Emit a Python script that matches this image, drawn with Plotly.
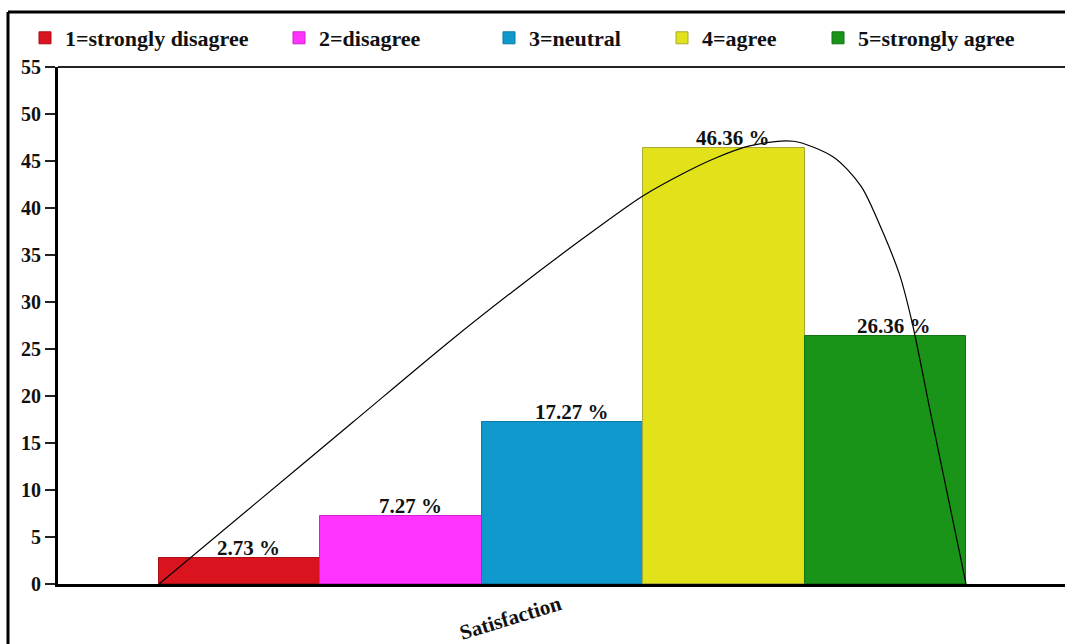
import plotly.graph_objects as go

categories = ["1=strongly disagree", "2=disagree", "3=neutral", "4=agree", "5=strongly agree"]
values = [2.73, 7.27, 17.27, 46.36, 26.36]
positions = [1, 2, 3, 4, 5]
colors = ["#d9141e", "#ff33ff", "#0f99cc", "#e2e21a", "#1a9418"]
edge_colors = ["#a80e16", "#d020d0", "#0b7aa6", "#a8a838", "#137313"]

# curve
curve_x = [0.5, 1.1, 1.7, 2.3, 2.72, 3.13, 3.49, 3.75, 3.96, 4.16, 4.43, 4.68, 4.85, 4.97, 5.09, 5.17, 5.28, 5.39, 5.5]
curve_y = [0.0, 8.6, 17.2, 25.8, 31.5, 36.8, 41.2, 43.7, 45.4, 46.6, 47.1, 45.4, 42.3, 38.0, 32.8, 27.5, 18.2, 9.1, 0.0]

yticks = [0, 5, 10, 15, 20, 25, 30, 35, 40, 45, 50, 55]
x_label = "Satisfaction"

W, H = 1065, 644
ML, MR, MT, MB = 58, 0, 67, 60
PW, PH = W - ML - MR, H - MT - MB

def px_x(p):
    return (p - ML) / PW

def px_y(p):
    return (H - MB - p) / PH

FONT = "Liberation Serif"
fig = go.Figure()

legend_centers = [46, 300, 510, 683, 839]
for i, (cat, v, pos, c, ec) in enumerate(zip(categories, values, positions, colors, edge_colors)):
    lname = "legend" if i == 0 else f"legend{i+1}"
    fig.add_trace(go.Bar(
        x=[pos], y=[v], width=1, name=cat,
        marker=dict(color=c, line=dict(color=ec, width=1)),
        legend=lname, showlegend=True,
    ))

fig.add_trace(go.Scatter(
    x=curve_x, y=curve_y, mode="lines",
    line=dict(color="black", width=1.2, shape="spline", smoothing=0.8),
    showlegend=False, hoverinfo="skip",
))

annotations = []
for pos, v in zip(positions, values):
    annotations.append(dict(
        x=pos, y=v, xref="x", yref="y", text=f"{v:.2f} %", showarrow=False,
        yanchor="bottom", xshift=9, yshift=-4,
        font=dict(family=FONT, size=21, color="#111", weight="bold"),
    ))
annotations.append(dict(
    x=2.675, y=px_y(618), xref="x", yref="paper", yanchor="middle", xanchor="center",
    text=x_label, showarrow=False,
    textangle=-17, font=dict(family=FONT, size=21, color="#111", weight="bold"),
))

layout_legends = {}
for i, cx in enumerate(legend_centers):
    lname = "legend" if i == 0 else f"legend{i+1}"
    layout_legends[lname] = dict(
        x=px_x(cx - 21), y=px_y(38), xanchor="left", yanchor="middle",
        orientation="h", bgcolor="rgba(0,0,0,0)", borderwidth=0,
        itemwidth=30,
        font=dict(family=FONT, size=22, color="#111", weight="bold"),
    )

shapes = [
    dict(type="line", xref="paper", yref="paper", x0=0, x1=1, y0=1, y1=1,
         line=dict(color="#222", width=2)),
    dict(type="line", xref="paper", yref="paper", x0=px_x(8), x1=px_x(8), y0=px_y(12), y1=px_y(H + 5),
         line=dict(color="black", width=3)),
    dict(type="line", xref="paper", yref="paper", x0=px_x(8), x1=px_x(W + 5), y0=px_y(12), y1=px_y(12),
         line=dict(color="black", width=3)),
]

fig.update_layout(
    width=W, height=H,
    margin=dict(l=ML, r=MR, t=MT, b=MB),
    paper_bgcolor="white", plot_bgcolor="white",
    barmode="overlay", bargap=0,
    xaxis=dict(range=[-0.126, 6.113], showgrid=False, zeroline=False, showticklabels=False,
               showline=True, linecolor="black", linewidth=3, ticks=""),
    yaxis=dict(range=[0, 55], tickvals=yticks, showgrid=False, zeroline=False,
               showline=True, linecolor="black", linewidth=3,
               ticks="outside", ticklen=10, tickwidth=1.5, tickcolor="#222",
               tickfont=dict(family=FONT, size=20, color="#111", weight="bold")),
    annotations=annotations,
    shapes=shapes,
    **layout_legends,
)

fig.write_html("out.html")
